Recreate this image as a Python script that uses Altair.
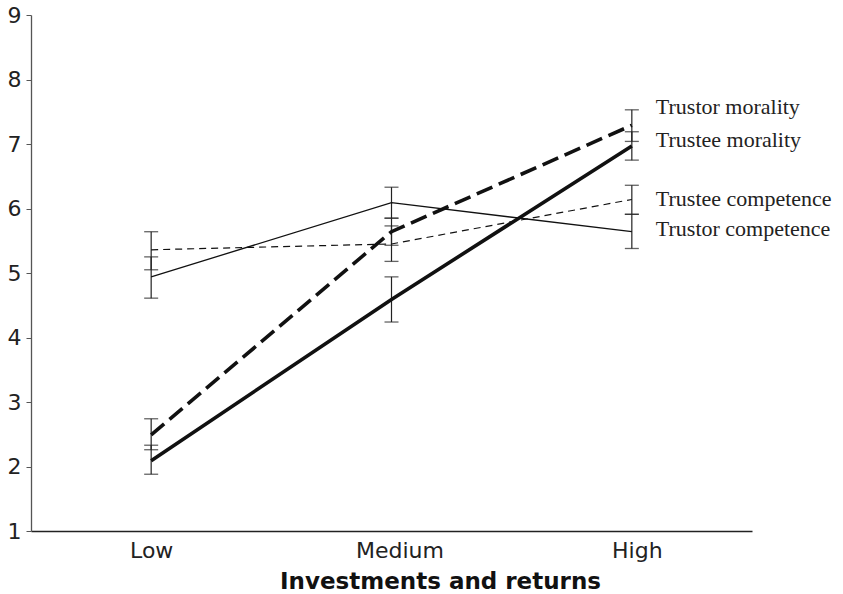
import altair as alt
import pandas as pd

categories = ["Low", "Medium", "High"]
series = ["Trustor morality", "Trustee morality", "Trustee competence", "Trustor competence"]

trustor_morality = [2.49, 5.64, 7.29]
trustor_morality_lo = [2.26, 5.43, 7.04]
trustor_morality_hi = [2.74, 5.85, 7.53]

trustee_morality = [2.09, 4.59, 6.97]
trustee_morality_lo = [1.88, 4.24, 6.75]
trustee_morality_hi = [2.33, 4.94, 7.19]

trustee_competence = [5.36, 5.45, 6.14]
trustee_competence_lo = [5.05, 5.18, 5.91]
trustee_competence_hi = [5.64, 5.73, 6.36]

trustor_competence = [4.94, 6.09, 5.64]
trustor_competence_lo = [4.61, 5.85, 5.38]
trustor_competence_hi = [5.25, 6.33, 5.91]

y_ticks = [1, 2, 3, 4, 5, 6, 7, 8, 9]

values = {
    "Trustor morality": (trustor_morality, trustor_morality_lo, trustor_morality_hi),
    "Trustee morality": (trustee_morality, trustee_morality_lo, trustee_morality_hi),
    "Trustee competence": (trustee_competence, trustee_competence_lo, trustee_competence_hi),
    "Trustor competence": (trustor_competence, trustor_competence_lo, trustor_competence_hi),
}

rows = []
for s in series:
    m, lo, hi = values[s]
    for i, c in enumerate(categories):
        rows.append({"series": s, "level": c, "mean": m[i], "lo": lo[i], "hi": hi[i]})
df = pd.DataFrame(rows)

styles = {
    "Trustor morality": {"strokeWidth": 3.6, "strokeDash": [17, 7], "dy": -18},
    "Trustee morality": {"strokeWidth": 3.6, "strokeDash": None, "dy": -6},
    "Trustee competence": {"strokeWidth": 1.2, "strokeDash": [7, 5], "dy": 0},
    "Trustor competence": {"strokeWidth": 1.3, "strokeDash": None, "dy": -3},
}

x_enc = alt.X(
    "level:N",
    sort=categories,
    scale=alt.Scale(type="point", padding=0.5),
    axis=alt.Axis(
        title="Investments and returns",
        titleFont="DejaVu Sans",
        titleFontSize=23,
        titleFontWeight="bold",
        titleColor="#111",
        titleX=409,
        titleY=57,
        titleAlign="center",
        titleBaseline="alphabetic",
        labelFont="DejaVu Sans",
        labelFontSize=22,
        labelColor="#222",
        labelAngle=0,
        labelPadding=9,
        labelOffset={"expr": "datum.value == 'Medium' ? 8 : (datum.value == 'High' ? 5 : 0)"},
        ticks=False,
        domainColor="#222",
        domainWidth=1.3,
        grid=False,
    ),
)
y_scale = alt.Scale(domain=[1, 9], nice=False, zero=False)
y_axis = alt.Axis(
    values=y_ticks,
    format="d",
    title=None,
    labelFont="DejaVu Sans",
    labelFontSize=22,
    labelColor="#222",
    labelPadding=5,
    tickSize=5,
    tickColor="#555",
    domainColor="#555",
    domainWidth=1.3,
    grid=False,
)

base = alt.Chart(df)

layers = []
# error bars
layers.append(
    base.mark_rule(color="#222", strokeWidth=1.2).encode(
        x=x_enc, y=alt.Y("lo:Q", scale=y_scale, axis=y_axis), y2="hi:Q"
    )
)
layers.append(
    base.mark_tick(color="#222", orient="horizontal", size=14, thickness=1.3).encode(
        x=x_enc, y=alt.Y("lo:Q", scale=y_scale)
    )
)
layers.append(
    base.mark_tick(color="#222", orient="horizontal", size=14, thickness=1.3).encode(
        x=x_enc, y=alt.Y("hi:Q", scale=y_scale)
    )
)

for s in series:
    st = styles[s]
    kw = {"color": "#111", "strokeWidth": st["strokeWidth"]}
    if st["strokeDash"] is not None:
        kw["strokeDash"] = st["strokeDash"]
    layers.append(
        base.transform_filter(alt.datum.series == s)
        .mark_line(**kw)
        .encode(x=x_enc, y=alt.Y("mean:Q", scale=y_scale))
    )
    layers.append(
        base.transform_filter((alt.datum.series == s) & (alt.datum.level == "High"))
        .mark_text(
            align="left",
            baseline="middle",
            dx=24,
            dy=st["dy"],
            font="Liberation Serif",
            fontSize=22,
            color="#222",
        )
        .encode(x=x_enc, y=alt.Y("mean:Q", scale=y_scale), text="series:N")
    )

chart = (
    alt.layer(*layers)
    .properties(
        width=721,
        height=516,
        autosize=alt.AutoSizeParams(type="none"),
        padding={"left": 31, "top": 15, "right": 91, "bottom": 63},
    )
    .configure(background="white")
    .configure_view(stroke=None)
)

chart.save("out.html", embed_options={"renderer": "svg", "actions": False})
